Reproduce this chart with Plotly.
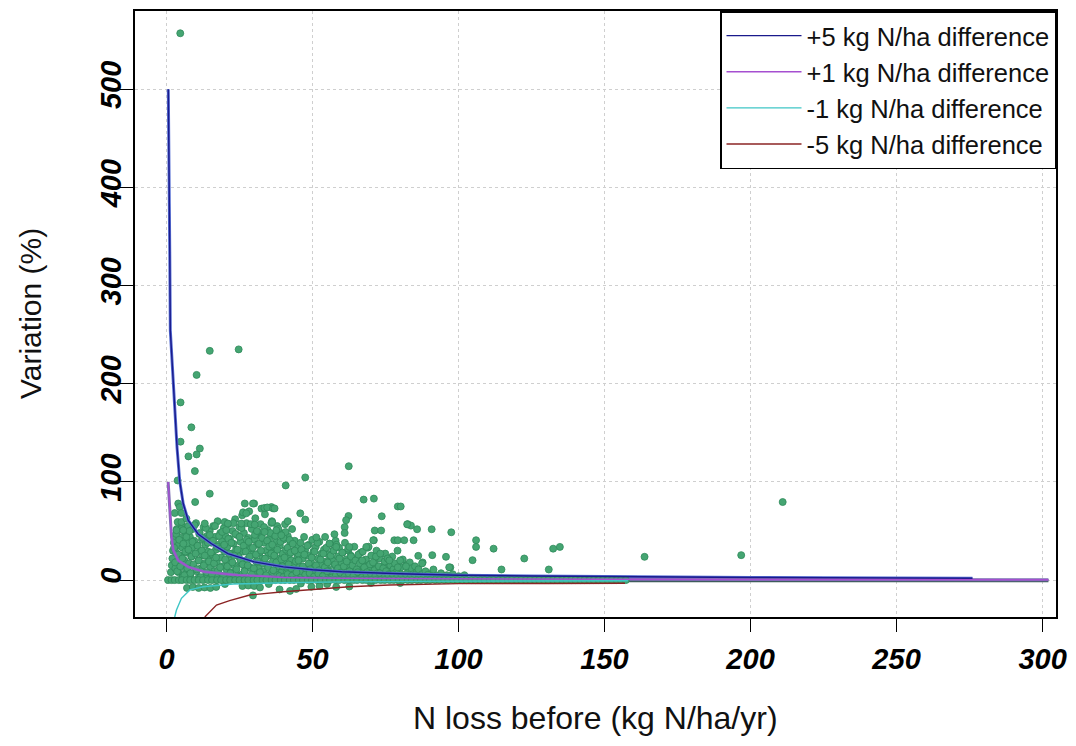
import plotly.graph_objects as go

# ---------------- data ----------------
# reference curves (variation % for a fixed N difference)
p5_x = [0.6, 0.7, 1.1, 1.3, 1.9, 2.8, 3.6, 4.5, 5.7, 7.4, 10.8, 15.4, 21, 30, 40, 50, 60, 80, 100, 125, 150, 200, 250, 276]
p5_y = [500, 435, 335, 254, 220, 169, 135, 101, 78, 61, 47, 37, 27, 18.6, 13.5, 10.5, 8.5, 6.5, 5, 4.2, 3.5, 2.7, 2.1, 1.8]

p1_x = [0.55, 0.8, 1.1, 1.7, 2.3, 4, 7.4, 13, 24.5, 40, 60, 100, 150, 200, 250, 302]
p1_y = [100, 88, 68, 44, 30.5, 20, 13.5, 8.4, 5, 2.7, 1.8, 1.1, 0.8, 0.6, 0.5, 0.4]

m1_x = [2.8, 3.4, 5.1, 8, 12.5, 22.8, 40, 60, 100, 158]
m1_y = [-37.6, -30.5, -18.6, -10, -6.8, -4, -2.7, -1.8, -1.1, -0.7]

m5_x = [13.1, 17.1, 21.6, 28.5, 40, 50, 62.6, 76.3, 100, 130, 157]
m5_y = [-37.6, -25.4, -21, -15.2, -11.9, -9.5, -6.8, -5, -3.6, -3.4, -3.2]

# dark band just under zero
base_x = [0.5, 302]
base_y = [-0.7, -0.7]

# observed points: isolated / outlying ones
out_x = [4.7, 14.8, 24.7, 10.3, 4.8, 8.5, 4.8, 11.4, 7.5, 10.3, 9.7, 3.8, 14.8, 9.8, 62.4, 47.5, 40.8,
         67.5, 71, 79.2, 80.2, 73.7, 45.8, 47.5, 41.5, 62.3, 61.5, 61, 61, 82.6, 83.7, 85.8, 90.8, 97.5,
         71.3, 73.5, 71, 78, 79.2, 81.4, 84.6, 57.5, 51.3, 33.6, 30, 26.8, 29.6, 26.2, 27.3, 35.9, 32.5,
         33.5, 34.5, 36.5, 37, 106, 106, 112, 104.8, 122.5, 114.7, 86.2, 87.7, 91, 95.7, 97.2, 91.4,
         68.4, 67, 76.3, 211, 196.8, 163.7, 134.7, 132.4, 130.9, 4, 4.5, 2.8, 5.1, 3.8, 5.1, 6.8, 3.4,
         5.7, 13.1, 19.9, 21, 25.6, 30.2, 35.9, 82.4, 36.2, 37.6, 39.3, 55.8, 58.1, 62.6, 70.8, 80,
         87.5, 82, 96.8]
out_y = [557, 233.5, 235, 209, 181, 155.6, 141, 134, 126, 128, 111, 101.5, 88, 79.5, 116, 104.6, 96.4,
         82, 83, 75, 75, 65, 68, 61.6, 60, 65.3, 61, 54, 48, 57, 55.5, 51.8, 51.8, 48.7,
         50.5, 50.5, 40.6, 40.6, 40.6, 40.6, 40.6, 46.7, 43.5, 49, 78, 78, 78, 69, 68, 74.4, 72.8,
         73.5, 74, 73, 73, 40.6, 33.8, 32, 20.3, 22, 10.8, 24.7, 18, 25.4, 23.7, 12.9, 10.8,
         33.8, 20, 20, 79.5, 25.4, 23.7, 33.8, 32, 10.8, 78, 74.4, 68.3, 68.3, 59.2, 59.2, 62.6, 50.8,
         50.8, 57.6, 59.2, 57.6, 57.6, 56.5, 58.2, 56.8, 59, 50.8, 45.7, 37.2, 33.8, 33.8, 40.6, 20,
         17, 14, 13]

# observed points: dense cloud (first pass)
cl_x = [1.5, 1.8, 2.0, 2.2, 2.5, 2.8, 3.0, 3.2, 3.5, 3.6, 3.9, 4.1, 4.3, 4.6, 4.9, 5.2, 5.4, 5.6, 5.9, 6.1,
        6.4, 6.6, 6.9, 7.2, 7.4, 7.7, 8.0, 8.2, 8.5, 8.8, 9.0, 9.3, 9.5, 9.8, 10.1, 10.3, 10.6, 10.9, 11.2,
        11.5, 11.8, 12.1, 12.4, 12.7, 13.0, 13.3, 13.6, 13.9, 14.2, 14.5, 14.8, 15.1,
        15.4, 15.7, 16.0, 16.3, 16.6, 16.9, 17.2, 17.5, 17.8, 18.1, 18.4, 18.7, 19.0, 19.3, 19.6, 19.9,
        20.2, 20.5, 20.8, 21.1, 21.4, 21.7, 22.0, 22.3, 22.6, 22.9, 23.2, 23.5, 23.8, 24.1, 24.4, 24.7,
        25.0, 25.3, 25.6, 25.9, 26.2, 26.5, 26.8, 27.1, 27.4, 27.7, 28.0, 28.3, 28.6, 28.9, 29.2, 29.5,
        29.8, 30.1, 30.4, 30.7, 31.0, 31.3, 31.6, 31.9, 32.2, 32.5, 32.8, 33.1, 33.4, 33.7, 34.0, 34.3,
        34.6, 34.9, 35.2, 35.5, 35.8, 36.1, 36.4, 36.7, 37.0, 37.3, 37.6, 37.9, 38.2, 38.5, 38.8, 39.1,
        39.4, 39.7, 40.0, 40.3, 40.6, 40.9, 41.2, 41.5, 41.8, 42.1, 42.4, 42.7, 43.0, 43.3, 43.6, 43.9,
        44.2, 44.5, 44.8,
        45.1, 45.5, 45.9, 46.3, 46.7, 47.1, 47.5, 47.9, 48.3, 48.7, 49.1, 49.5, 49.9, 50.3, 50.7, 51.1,
        51.5, 51.9, 52.3, 52.7, 53.1, 53.5, 53.9, 54.3, 54.7, 55.1, 55.5, 55.9, 56.3, 56.7, 57.1, 57.5,
        57.9, 58.3, 58.7, 59.1, 59.5, 59.9, 60.3, 60.7, 61.1, 61.5, 61.9, 62.3, 62.7, 63.1, 63.5, 63.9,
        64.3, 64.7,
        65.3, 65.9, 66.5, 67.1, 67.7, 68.3, 68.9, 69.5, 70.1, 70.7, 71.3, 71.9, 72.5, 73.1, 73.7, 74.3,
        74.9, 75.5, 76.1, 76.7, 77.3, 77.9, 78.5, 79.1, 79.7, 80.3, 80.9, 81.5, 82.1, 82.7, 83.3, 83.9,
        84.5, 85.1, 85.7, 86.3, 87.5, 88.7, 89.9, 91.1, 92.5, 94, 96, 98, 100, 102,
        5.5, 8, 11, 14, 17, 20, 23, 26, 29, 32, 35, 38, 41, 44, 47, 50, 53, 56, 59, 62, 65, 68, 71, 74,
        77, 80, 83, 86, 89, 92, 95, 98]
cl_y = [8, 15, 22, 30, 38, 45, 12, 28, 52, 19, 35, 8, 44, 25, 15, 56, 33, 5, 40, 20,
        48, 11, 28, 37, 55, 17, 44, 6, 24, 33, 52, 14, 40, 27, 58, 9, 35, 20, 47,
        30, 12, 41, 25, 54, 17, 36, 7, 45, 29, 21, 50, 13,
        38, 26, 55, 9, 44, 31, 18, 60, 36, 6, 48, 23, 40, 14, 53, 29,
        45, 11, 34, 57, 20, 42, 8, 27, 50, 37, 15, 62, 31, 46, 5, 24,
        54, 39, 17, 66, 29, 48, 10, 35, 58, 21, 43, 70, 13, 32, 52, 26,
        7, 41, 63, 19, 36, 49, 12, 28, 57, 44, 22, 9, 38, 67, 30, 16,
        51, 25, 42, 6, 33, 60, 19, 46, 28, 11, 39, 55, 22, 14, 35, 48,
        8, 27, 41, 18, 57, 31, 12, 45, 24, 5, 37, 20, 52, 29, 15, 40,
        9, 33, 23,
        27, 14, 38, 6, 22, 44, 31, 11, 25, 36, 8, 18, 41, 29, 13, 34,
        5, 22, 39, 16, 27, 9, 31, 44, 19, 12, 26, 37, 7, 21, 30, 15,
        40, 10, 24, 33, 6, 18, 28, 12, 38, 21, 8, 30, 16, 25, 5, 19,
        34, 11,
        22, 9, 28, 15, 6, 20, 33, 12, 25, 7, 17, 30, 10, 22, 5, 14,
        27, 9, 19, 11, 24, 6, 16, 30, 8, 13, 21, 5, 15, 9, 18, 12,
        6, 14, 8, 11, 6, 9, 5, 8, 4, 7, 5, 6, 4, 5,
        3, 4, 2.5, 5, 3, 4, 2, 6, 3, 4, 2.5, 5, 3, 4, 2, 5, 3, 4, 2.5, 3, 4, 2, 3.5, 2.5,
        4, 2, 3, 2.5, 3, 2, 2.5, 2]

# dense cloud (second pass, x 2.6 - 44)
cl2_x = [2.6, 2.95, 3.3, 3.65, 4.0, 4.35, 4.7, 5.05, 5.4, 5.75, 6.1, 6.45, 6.8, 7.15, 7.5, 7.85, 8.2, 8.55,
         8.9, 9.25, 9.6, 9.95, 10.3, 10.65, 11.0, 11.35, 11.7, 12.05, 12.4, 12.75, 13.1, 13.45, 13.8, 14.15,
         14.5, 14.85, 15.2, 15.55, 15.9, 16.25, 16.6, 16.95, 17.3, 17.65, 18.0, 18.35, 18.7, 19.05, 19.4,
         19.75, 20.1, 20.45, 20.8, 21.15, 21.5, 21.85, 22.2, 22.55, 22.9, 23.25, 23.6, 23.95, 24.3, 24.65,
         25.0, 25.35, 25.7, 26.05, 26.4, 26.75, 27.1, 27.45, 27.8, 28.15, 28.5, 28.85, 29.2, 29.55, 29.9,
         30.25, 30.6, 30.95, 31.3, 31.65, 32.0, 32.35, 32.7, 33.05, 33.4, 33.75, 34.1, 34.45, 34.8, 35.15,
         35.5, 35.85, 36.2, 36.55, 36.9, 37.25, 37.6, 37.95, 38.3, 38.65, 39.0, 39.35, 39.7, 40.05, 40.4,
         40.75, 41.1, 41.45, 41.8, 42.15, 42.5, 42.85, 43.2, 43.55, 43.9, 44.25]
cl2_y = [33, 18, 47, 9, 26, 41, 14, 52, 22, 37, 5, 29,
         44, 12, 31, 50, 7, 24, 39, 16, 56, 27, 11, 35,
         20, 48, 3, 30, 43, 15, 25, 53, 8, 38, 19, 46,
         28, 6, 40, 17, 55, 23, 34, 10, 45, 13, 32, 49,
         4, 36, 21, 51, 14, 42, 27, 7, 38, 18, 58, 25,
         47, 11, 31, 3, 44, 20, 53, 16, 35, 9, 29, 41,
         15, 39, 24, 57, 6, 33, 12, 46, 26, 50, 19, 37,
         8, 30, 43, 17, 54, 22, 5, 40, 13, 34, 48, 27,
         36, 10, 25, 45, 18, 31, 52, 4, 39, 21, 14, 43,
         23, 49, 7, 33, 16, 41, 28, 11, 37, 6, 30, 19]

# dense cloud (third pass, x 45 - 80)
cl3_x = [45.2, 45.7, 46.2, 46.7, 47.2, 47.7, 48.2, 48.7, 49.2, 49.7, 50.2, 50.7, 51.2, 51.7, 52.2, 52.7,
         53.2, 53.7, 54.2, 54.7, 55.2, 55.7, 56.2, 56.7, 57.2, 57.7, 58.2, 58.7, 59.2, 59.7, 60.2, 60.7,
         61.2, 61.7, 62.2, 62.7, 63.2, 63.7, 64.2, 64.7, 65.2, 65.7, 66.2, 66.7, 67.2, 67.7, 68.2, 68.7,
         69.2, 69.7, 70.2, 70.7, 71.2, 71.7, 72.2, 72.7, 73.2, 73.7, 74.2, 74.7, 75.2, 75.7, 76.2, 76.7,
         77.2, 77.7, 78.2, 78.7, 79.2, 79.7]
cl3_y = [20, 8, 31, 14, 26, 4, 35, 17, 11, 23,
         6, 29, 15, 38, 10, 21, 3, 27, 13, 33,
         18, 9, 25, 5, 30, 16, 36, 12, 22, 7,
         28, 14, 3, 19, 32, 9, 24, 15, 6, 20,
         11, 26, 17, 4, 29, 13, 21, 8, 34, 16,
         5, 18, 10, 24, 7, 14, 27, 4, 12, 19,
         9, 22, 6, 15, 3, 11, 17, 8, 13, 5]

# dense low band just above zero (x 40 - 100)
cl4_x = [40, 41.5, 43, 44.5, 46, 47.5, 49, 50.5, 52, 53.5, 55, 56.5, 58, 59.5, 61, 62.5, 64, 65.5, 67, 68.5,
         70, 71.5, 73, 74.5, 76, 77.5, 79, 80.5, 82, 83.5, 85, 86.5, 88, 89.5, 91, 92.5, 94, 95.5, 97, 98.5, 100]
cl4_y = [3, 6, 4.5, 8, 2.5, 5.5, 7, 3.5, 6.5, 4, 9, 2.5, 5, 7.5, 3.5, 6, 4.5, 8, 3, 5.5,
         6.5, 4, 7, 2.5, 5, 6, 3.5, 4.5, 6, 3, 5, 4, 2.5, 5.5, 3.5, 4.5, 3, 4, 3.5, 2.5, 3]

# observed points lying on zero (no change)
zero_x = [0.5, 1.7, 2.8, 4.2, 5.3, 6.9, 8.1, 9.6, 11.0, 12.5, 14.2, 15.6, 17.3, 18.7, 20.4, 21.8, 23.5,
          25.0, 26.7, 28.0, 29.8, 31.1, 32.9, 34.2, 36.0, 37.3, 39.1, 40.5, 42.2, 43.6, 45.3, 46.7, 48.4,
          49.8, 51.5, 52.9, 54.6, 56.0, 57.8, 59.1, 60.9, 62.2, 64.0, 65.3, 67.1, 68.5, 70.2, 71.6, 73.3,
          74.7, 76.4, 77.8, 79.5, 80.9, 82.6, 84.0, 85.8, 87.1, 88.9, 90.2, 92.0, 93.4, 95.1, 96.5, 98.2,
          99.6, 101.3, 102.7, 104.4, 105.8, 107.5, 108.9, 110.7, 112.0, 113.8, 115.1, 116.9, 118.2, 120.0,
          121.4, 123.1, 124.5, 126.2, 127.6, 129.3, 130.7, 132.4, 133.8, 135.6, 136.9, 138.7, 140.0,
          141.8, 143.1, 144.9, 146.3, 148.0, 149.4, 151.1, 152.5, 154.2, 155.6, 157.3]
zero_y = [0] * len(zero_x)

# observed points slightly below zero
neg_x = [7, 9, 11, 13, 15, 17, 20, 26, 28, 30, 32, 29.6, 35, 38.7, 42.3, 44.4, 46, 49.6, 52.4, 55, 58.1, 62.6, 70, 80]
neg_y = [-8, -7, -8, -7.5, -8, -7, -4, -6, -5.5, -6, -7.5, -15.6, -4, -9.5, -11, -9, -3.5, -6.8, -6, -4, -7, -6.5, -3, -3]

x_ticks = [0, 50, 100, 150, 200, 250, 300]
y_ticks = [0, 100, 200, 300, 400, 500]

curve_names = ["+5 kg N/ha difference", "+1 kg N/ha difference", "-1 kg N/ha difference", "-5 kg N/ha difference"]
curve_colors = ["#1a1a8c", "#a54fd0", "#3fc6c6", "#8b2525"]

# ---------------- figure ----------------
fig = go.Figure()

fig.add_trace(go.Scatter(x=base_x, y=base_y, mode="lines", line=dict(color="#3e5c5c", width=3),
                         showlegend=False, hoverinfo="skip"))

pt_marker = dict(color="#45a572", size=7, line=dict(color="#2f8a5a", width=0.8))
for xs, ys in [(neg_x, neg_y), (cl_x, cl_y), (cl2_x, cl2_y), (cl3_x, cl3_y), (cl4_x, cl4_y), (out_x, out_y)]:
    fig.add_trace(go.Scatter(x=xs, y=ys, mode="markers", marker=pt_marker, showlegend=False))

# light bands under the positive curves
fig.add_trace(go.Scatter(x=p5_x, y=p5_y, mode="lines", line=dict(color="#5870d4", width=3),
                         showlegend=False, hoverinfo="skip"))
fig.add_trace(go.Scatter(x=p1_x, y=p1_y, mode="lines", line=dict(color="#7c70b4", width=3),
                         showlegend=False, hoverinfo="skip"))

# zero band drawn above the light bands
fig.add_trace(go.Scatter(x=zero_x, y=zero_y, mode="markers", marker=pt_marker, showlegend=False))

for xs, ys, nm, col in zip([p5_x, p1_x, m1_x, m5_x], [p5_y, p1_y, m1_y, m5_y], curve_names, curve_colors):
    fig.add_trace(go.Scatter(x=xs, y=ys, mode="lines", name=nm, line=dict(color=col, width=1.4)))

tick_font = dict(family="Liberation Sans, Arial", size=29, color="black", weight="bold", style="italic")
axis_common = dict(showline=True, linecolor="black", linewidth=1.5, mirror=True,
                   ticks="outside", ticklen=13, tickwidth=1.2, tickcolor="black",
                   showgrid=True, gridcolor="#cfcfcf", gridwidth=1, griddash="dot",
                   zeroline=False, tickfont=tick_font)

fig.update_layout(
    width=1076, height=746,
    margin=dict(l=135, r=18, t=9, b=129),
    paper_bgcolor="white", plot_bgcolor="white",
    xaxis=dict(range=[-10.8, 304.6], tickvals=x_ticks, ticklabelstandoff=2, **axis_common),
    yaxis=dict(range=[-37.6, 579.7], tickvals=y_ticks, tickangle=-90, ticklabelstandoff=-12, **axis_common),
    legend=dict(x=1, y=1, xanchor="right", yanchor="top", bgcolor="white",
                bordercolor="black", borderwidth=1.5, itemwidth=75,
                font=dict(family="Liberation Sans, Arial", size=25.5, color="#111")),
    font=dict(family="Liberation Sans, Arial"),
    annotations=[
        dict(text="N loss before (kg N/ha/yr)", xref="paper", yref="paper", x=0.5, y=-0.166,
             xanchor="center", yanchor="middle", showarrow=False,
             font=dict(family="Liberation Sans, Arial", size=32, color="#111")),
        dict(text="Variation (%)", xref="paper", yref="paper", x=-0.114, y=0.5, textangle=-90,
             xanchor="center", yanchor="middle", showarrow=False,
             font=dict(family="Liberation Sans, Arial", size=30, color="#111")),
    ],
)

fig.write_html("out.html")
